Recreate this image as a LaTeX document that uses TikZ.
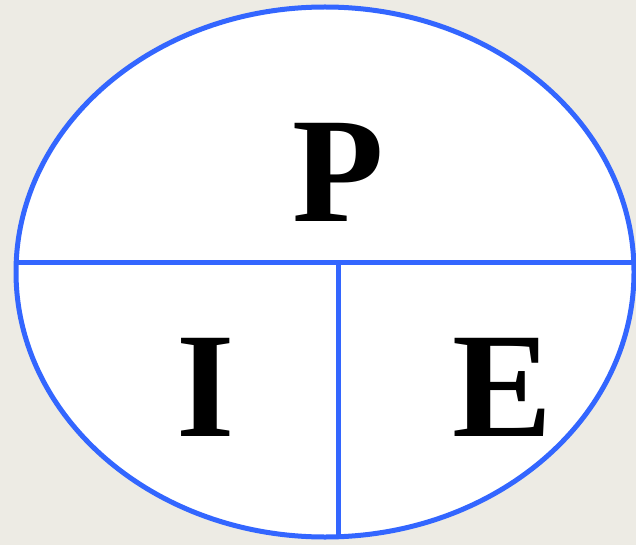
\documentclass[tikz,border=0pt]{standalone}
\usepackage{fontspec}
\setmainfont{Liberation Serif}
\definecolor{bg}{HTML}{EDEBE4}
\definecolor{pieblue}{RGB}{51,102,255}
\begin{document}
\begin{tikzpicture}[x=1pt,y=-1pt,
  rim/.style={draw=pieblue,line width=5pt},
  letter/.style={anchor=base,inner sep=0pt,font=\fontsize{150}{150}\selectfont\bfseries}]
\fill[bg] (0,0) rectangle (636,545);
\useasboundingbox (0,0) rectangle (636,545);
\filldraw[rim,fill=white] (325,272) ellipse [x radius=309,y radius=265];
\coordinate (hl) at (16.2,262.5);
\coordinate (hr) at (633.8,262.5);
\coordinate (vt) at (338.5,262.5);
\coordinate (vb) at (338.5,536.7);
\draw[rim] (hl) -- (hr);
\draw[rim] (vt) -- (vb);
\node[letter] (p) at (338.3,222) {P};
\node[letter] (i) at (206,436) {I};
\node[letter] (e) at (502.5,436) {E};
\end{tikzpicture}
\end{document}
